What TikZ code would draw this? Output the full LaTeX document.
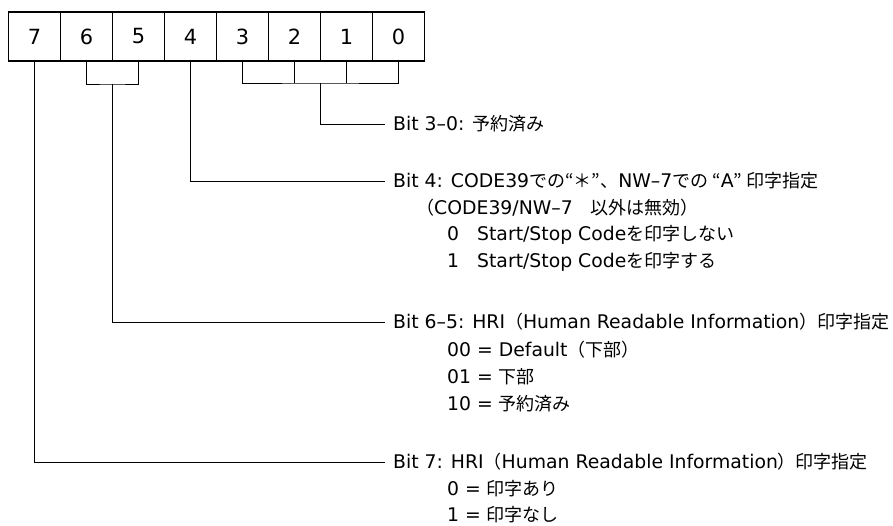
\documentclass[tikz,border=0pt]{standalone}
\usepackage{fontspec}
\setmainfont[Scale=1.045]{DejaVu Sans}
\newfontfamily\jp{Noto Sans CJK JP}
\newcommand{\oq}[1]{\makebox[#1][r]{“}}
\newcommand{\cq}[1]{\makebox[#1][l]{”}}
\usetikzlibrary{calc}

\tikzset{
  bitbox/.style={draw, line width=1.2pt, minimum width=52pt, minimum height=49pt,
    inner sep=0pt, outer sep=0pt, font=\fontsize{20}{20}\selectfont},
  wire/.style={line width=0.6pt},
  desc/.style={anchor=west, inner xsep=8pt, inner ysep=0pt, font=\fontsize{18}{18}\selectfont},
  sub/.style={anchor=west, inner sep=0pt, font=\fontsize{18}{18}\selectfont}
}

\begin{document}
\begin{tikzpicture}[x=1pt, y=-1pt]
\useasboundingbox (0,0) rectangle (893,526);

% the eight bits
\foreach \b [count=\i from 0] in {7,6,5,4,3,2,1,0}
  \node[bitbox] (b\b) at (34.5+52*\i, 36.5) {\b};

% brackets under bits 6-5 and 3-0
\coordinate (j65) at ($(b6.south)!.5!(b5.south)+(0,23)$);
\draw[wire] (b6.south) |- (j65) -| (b5.south);
\coordinate (j30) at ($(b2.south)!.5!(b1.south)+(0,22)$);
\draw[wire] (b3.south) |- (j30) -| (b0.south);
\draw[wire] (b2.south) -- (b2.south |- j30);
\draw[wire] (b1.south) -- (b1.south |- j30);

% descriptions
\node[desc] (t30) at (385,124) {Bit 3–0: {\jp 予約済み}};

\node[desc] (t4) at (385,181) {Bit 4: CODE39{\jp での“＊”、}NW–7{\jp での\oq{.7em}}A{\jp \cq{.7em}印字指定}};
\node[sub] (t4a) at (416,208) {{\jp （}CODE39/NW–7{\jp 　以外は無効）}};
\node[sub] (t4b) at (447,235) {0{\jp 　}Start/Stop Code{\jp を印字しない}};
\node[sub] (t4c) at (447,262) {1{\jp 　}Start/Stop Code{\jp を印字する}};

\node[desc] (t65) at (385,322) {Bit 6–5: HRI{\jp （}Human Readable Information{\jp ）印字指定}};
\node[sub] (t65a) at (447,350) {00 = Default{\jp （下部）}};
\node[sub] (t65b) at (447,377) {01 = {\jp 下部}};
\node[sub] (t65c) at (447,404) {10 = {\jp 予約済み}};

\node[desc] (t7) at (385,462) {Bit 7: HRI{\jp （}Human Readable Information{\jp ）印字指定}};
\node[sub] (t7a) at (447,489) {0 = {\jp 印字あり}};
\node[sub] (t7b) at (447,515) {1 = {\jp 印字なし}};

% leader lines
\draw[wire] (j30) |- (t30.west);
\draw[wire] (b4.south) |- (t4.west);
\draw[wire] (j65) |- (t65.west);
\draw[wire] (b7.south) |- (t7.west);
\end{tikzpicture}
\end{document}
